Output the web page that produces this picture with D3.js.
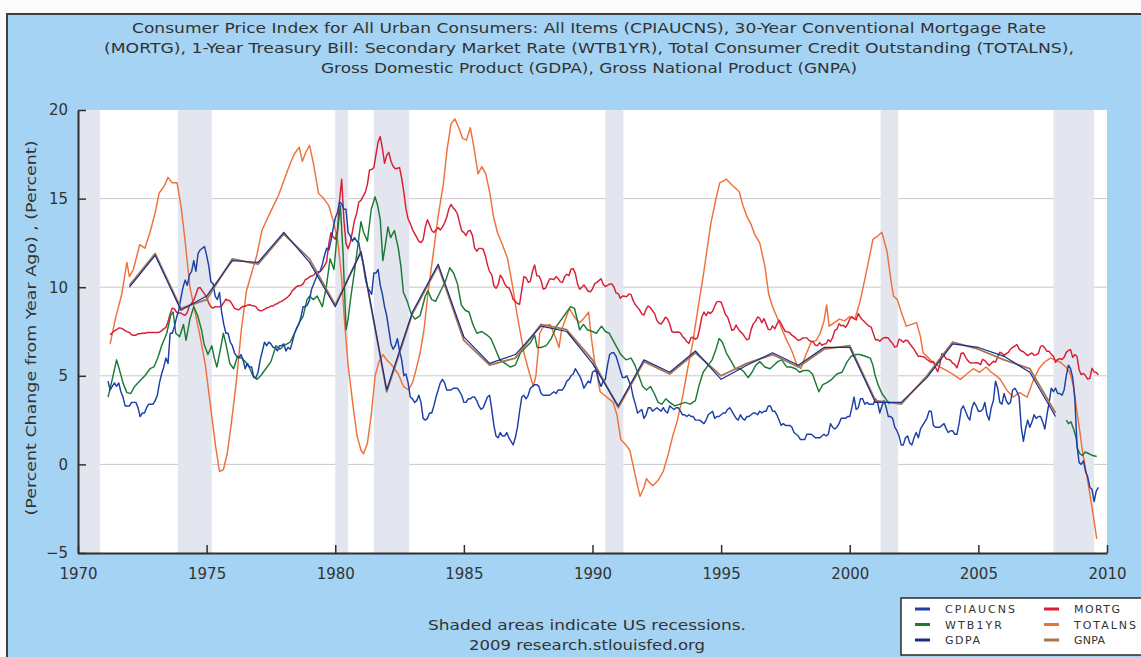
<!DOCTYPE html>
<html><head><meta charset="utf-8">
<script src="https://cdn.jsdelivr.net/npm/d3@7"></script>
<style>
html,body{margin:0;padding:0;background:#ffffff;}
svg{display:block;font-family:"DejaVu Sans",Verdana,sans-serif;}
</style>
</head><body>
<svg id="chart" width="1141" height="657"></svg>
<script>
// ---------------- DATA ----------------
const titleLines = [
  "Consumer Price Index for All Urban Consumers: All Items (CPIAUCNS), 30-Year Conventional Mortgage Rate",
  "(MORTG), 1-Year Treasury Bill: Secondary Market Rate (WTB1YR), Total Consumer Credit Outstanding (TOTALNS),",
  "Gross Domestic Product (GDPA), Gross National Product (GNPA)"
];
const yAxisLabel = "(Percent Change from Year Ago) , (Percent)";
const footerLines = ["Shaded areas indicate US recessions.", "2009 research.stlouisfed.org"];
const yTicks = [-5, 0, 5, 10, 15, 20];
const gridValues = [0, 5, 10, 15];
const xTicks = [1970, 1975, 1980, 1985, 1990, 1995, 2000, 2005, 2010];

const recessions = [[1970.0, 1970.85], [1973.88, 1975.2], [1980.0, 1980.5], [1981.5, 1982.88],
                    [1990.5, 1991.2], [2001.2, 2001.88], [2007.92, 2009.5]];

// CPIAUCNS: monthly, % change from year ago, starting March 1971
const cpiStart = 1971 + 2/12;
const cpiValues = [
  4.7,4.2,4.4,4.6,4.4,4.6,4.1,3.8,3.3,3.3,
  3.3,3.5,3.5,3.5,3.2,2.7,2.9,2.9,3.2,3.4,3.4,3.4,
  3.6,3.9,4.6,5.1,5.5,6.0,5.7,7.4,7.4,7.8,8.3,8.7,
  9.4,10.0,10.4,10.1,10.7,10.9,11.5,10.9,11.9,12.1,12.2,12.3,
  11.8,11.2,10.3,10.2,9.5,9.3,9.7,8.6,7.9,7.4,7.4,6.9,
  6.7,6.3,6.1,6.0,6.2,5.9,5.4,5.7,5.5,5.5,4.9,4.9,
  5.2,5.9,6.4,6.9,6.7,6.9,6.8,6.6,6.6,6.4,6.7,6.7,
  6.8,6.4,6.6,6.5,6.9,7.4,7.7,7.9,8.3,8.9,8.9,9.0,
  9.3,9.9,10.2,10.5,10.8,10.9,11.3,11.8,12.2,12.1,12.6,13.3,
  13.9,14.2,14.8,14.7,14.4,14.4,13.1,12.9,12.6,12.8,12.6,12.5,
  11.8,11.4,10.5,10.0,9.8,9.6,10.8,10.8,11.0,10.1,9.6,8.9,
  8.4,7.6,6.8,6.5,6.7,7.1,6.4,5.9,5.0,5.1,4.6,3.8,
  3.7,3.5,3.6,3.9,3.5,2.6,2.5,2.6,2.9,2.9,3.3,3.8,
  4.2,4.6,4.8,4.6,4.2,4.2,4.2,4.3,4.3,4.3,4.1,3.9,
  3.5,3.5,3.7,3.7,3.8,3.8,3.6,3.3,3.1,3.2,3.5,3.8,
  3.9,3.1,2.2,1.6,1.5,1.8,1.6,1.6,1.8,1.5,1.3,1.1,
  1.5,2.1,3.0,3.8,3.9,3.7,3.9,4.3,4.4,4.5,4.5,4.4,
  4.0,3.9,3.9,3.9,3.9,4.0,4.1,4.0,4.2,4.2,4.2,4.4,
  4.7,4.8,5.0,5.1,5.4,5.2,5.0,4.7,4.3,4.5,4.7,4.6,
  5.2,5.3,5.2,4.7,4.4,4.7,4.8,5.6,6.2,6.3,6.3,6.1,
  5.7,5.3,4.9,4.9,5.0,4.7,4.4,3.8,3.4,2.9,3.0,3.1,
  2.6,2.8,3.2,3.2,3.0,3.1,3.2,3.1,3.0,3.2,3.0,2.9,
  3.3,3.2,3.1,3.2,3.2,3.0,2.8,2.8,2.7,2.8,2.7,2.7,
  2.5,2.5,2.5,2.4,2.3,2.5,2.8,2.9,3.0,2.6,2.7,2.7,
  2.8,2.9,2.9,3.1,3.2,3.0,2.8,2.6,2.5,2.8,2.6,2.5,
  2.7,2.7,2.8,2.9,2.9,2.8,3.0,2.9,3.0,3.0,3.3,3.3,
  3.0,3.0,2.8,2.5,2.2,2.3,2.2,2.2,2.2,2.1,1.8,1.7,
  1.6,1.4,1.4,1.4,1.7,1.7,1.7,1.6,1.5,1.5,1.5,1.6,
  1.7,1.6,1.7,2.3,2.1,2.0,2.1,2.3,2.6,2.6,2.6,2.7,
  2.7,3.2,3.8,3.1,3.2,3.7,3.7,3.4,3.5,3.4,3.4,3.4,
  3.7,3.5,2.9,3.3,3.6,3.2,2.7,2.7,2.6,2.1,1.9,1.6,
  1.1,1.1,1.5,1.6,1.2,1.1,1.5,1.8,1.5,2.0,2.2,2.4,
  2.6,3.0,3.0,2.2,2.1,2.1,2.1,2.2,2.3,2.0,1.8,1.9,
  1.9,1.7,1.7,2.3,3.1,3.3,3.0,2.7,2.5,3.2,3.5,3.3,
  3.0,3.0,3.1,3.5,2.8,2.5,3.2,3.6,4.7,4.3,3.5,3.4,
  4.0,3.6,3.4,3.5,4.2,4.3,4.1,3.8,2.1,1.3,2.0,2.5,
  2.1,2.4,2.8,2.6,2.7,2.7,2.4,2.0,2.8,3.5,4.3,4.1,
  4.3,4.0,4.0,3.9,4.2,5.0,5.6,5.4,4.9,3.7,1.1,0.1,
  0.0,0.2,-0.4,-0.7,-1.3,-1.4,-2.1,-1.5,-1.3
];

// MORTG: monthly, percent, starting April 1971
const mortgStart = 1971 + 3/12;
const mortgValues = [
  7.31,7.43,7.53,7.60,7.70,7.69,7.63,7.55,7.48,
  7.44,7.32,7.29,7.29,7.37,7.37,7.40,7.40,7.43,7.45,7.44,7.44,
  7.44,7.44,7.46,7.54,7.65,7.73,8.05,8.50,8.82,8.77,8.58,8.54,
  8.54,8.46,8.41,8.58,8.97,9.09,9.28,9.59,9.96,9.98,9.79,9.62,
  9.43,9.10,8.89,8.82,8.91,8.89,8.89,8.94,9.13,9.32,9.26,9.22,
  9.02,8.81,8.76,8.73,8.83,8.92,8.92,8.99,9.01,8.97,8.95,8.90,
  8.72,8.67,8.69,8.75,8.83,8.86,8.94,8.94,9.04,9.07,9.16,9.20,
  9.28,9.37,9.46,9.60,9.80,9.92,10.04,10.08,10.10,10.19,10.42,10.48,
  10.59,10.63,10.68,10.83,10.87,10.89,11.03,11.21,11.46,12.46,13.08,12.85,
  12.71,13.20,14.90,16.10,13.86,12.46,12.17,12.52,13.13,13.78,14.16,14.81,
  14.90,15.12,15.35,15.80,16.62,16.64,16.75,17.50,18.20,18.50,17.84,16.99,
  17.44,17.61,17.11,16.83,16.68,16.71,16.75,16.14,15.35,14.42,13.85,13.60,
  13.25,13.04,12.81,12.59,12.52,12.69,13.39,13.80,13.52,13.20,13.09,13.23,
  13.37,13.23,13.39,13.64,13.95,14.42,14.67,14.47,14.35,14.13,13.64,13.18,
  13.08,12.92,13.17,13.20,12.91,12.22,12.03,12.19,12.19,12.14,11.78,11.26,
  10.88,10.71,10.08,9.94,10.14,10.68,10.51,10.20,10.01,9.97,9.70,9.31,
  9.20,9.08,9.04,9.83,10.60,10.54,10.28,10.33,10.89,11.26,10.65,10.64,
  10.38,9.89,9.93,10.20,10.46,10.46,10.43,10.60,10.48,10.30,10.27,10.61,
  10.73,10.65,11.03,11.05,10.77,10.20,9.88,9.99,10.13,9.95,9.77,9.74,
  9.90,10.20,10.27,10.37,10.48,10.16,10.04,10.10,10.18,10.18,10.01,9.67,
  9.64,9.37,9.50,9.49,9.47,9.62,9.58,9.24,9.01,8.86,8.71,8.50,
  8.43,8.76,8.94,8.85,8.67,8.51,8.13,7.98,7.92,8.09,8.31,8.22,
  7.92,7.50,7.46,7.46,7.47,7.42,7.21,7.11,6.92,6.83,7.16,7.17,
  7.06,7.15,7.68,8.32,8.60,8.40,8.61,8.51,8.64,8.93,9.17,9.20,
  9.15,8.83,8.46,8.32,7.96,7.57,7.61,7.86,7.64,7.48,7.38,7.20,
  7.03,7.08,7.62,7.93,8.07,8.32,8.25,8.00,8.23,7.92,7.62,7.60,
  7.82,7.65,7.90,8.14,7.94,7.69,7.50,7.48,7.43,7.29,7.21,7.10,
  6.99,7.04,7.13,7.14,7.14,7.00,6.95,6.92,6.72,6.71,6.87,6.72,
  6.79,6.81,7.04,6.92,7.15,7.55,7.63,7.94,7.82,7.85,7.74,7.91,
  8.21,8.33,8.24,8.15,8.52,8.29,8.15,8.03,7.91,7.80,7.75,7.38,
  7.03,7.05,6.95,7.08,7.15,7.16,7.13,6.95,6.82,6.62,6.66,7.07,
  7.00,6.89,7.01,6.99,6.81,6.65,6.49,6.29,6.09,6.11,6.07,6.05,
  5.92,5.84,5.75,5.81,5.48,5.23,5.63,6.26,6.15,5.95,5.93,5.88,
  5.71,5.64,5.45,5.83,6.27,6.29,6.06,5.87,5.75,5.72,5.73,5.75,
  5.71,5.63,5.93,5.86,5.72,5.58,5.70,5.82,5.77,6.07,6.33,6.27,
  6.15,6.25,6.32,6.51,6.60,6.68,6.76,6.52,6.40,6.36,6.24,6.14,
  6.22,6.29,6.16,6.18,6.26,6.66,6.70,6.57,6.38,6.38,6.21,6.10,
  5.76,5.92,5.97,5.92,6.04,6.32,6.43,6.48,6.04,6.20,6.09,5.33,
  5.06,5.13,5.00,4.81,4.86,5.42,5.22,5.19,5.06
];

// WTB1YR: [year, percent]; null marks the gap in the series (2001-2008)
const wtb1yrPoints = [
  [1971.17,3.8],[1971.3,4.6],[1971.5,5.9],[1971.6,5.4],[1971.75,4.6],[1971.9,4.05],[1972.05,4.0],[1972.2,4.4],
  [1972.4,4.7],[1972.6,5.0],[1972.8,5.4],[1972.95,5.5],[1973.1,6.0],[1973.25,6.7],[1973.45,7.4],[1973.6,8.4],
  [1973.7,8.6],[1973.8,7.4],[1973.95,7.2],[1974.1,7.9],[1974.2,7.0],[1974.35,8.2],[1974.5,8.9],[1974.65,8.4],
  [1974.8,7.6],[1974.9,6.8],[1975.05,6.2],[1975.2,6.7],[1975.3,6.0],[1975.4,5.5],[1975.55,6.6],[1975.65,7.4],
  [1975.75,6.8],[1975.9,5.7],[1976.05,5.4],[1976.2,6.1],[1976.35,6.0],[1976.5,5.8],[1976.65,5.5],[1976.8,5.0],
  [1976.95,4.8],[1977.1,5.0],[1977.3,5.4],[1977.5,5.8],[1977.7,6.7],[1977.85,6.5],[1978.0,6.7],[1978.25,6.9],
  [1978.45,7.5],[1978.6,8.0],[1978.75,8.35],[1978.9,9.3],[1979.0,9.5],[1979.15,9.3],[1979.3,9.5],[1979.5,8.9],
  [1979.65,10.0],[1979.8,11.6],[1979.95,11.0],[1980.05,12.6],[1980.2,14.6],[1980.3,12.0],[1980.42,7.6],[1980.5,8.2],
  [1980.6,9.4],[1980.75,10.9],[1980.9,12.6],[1981.0,13.7],[1981.1,13.1],[1981.25,12.6],[1981.4,14.4],[1981.55,15.1],
  [1981.65,14.6],[1981.75,13.8],[1981.85,11.5],[1981.95,12.4],[1982.05,13.4],[1982.15,12.8],[1982.3,13.2],[1982.45,12.2],
  [1982.55,11.2],[1982.65,9.7],[1982.8,9.2],[1982.95,8.5],[1983.1,8.2],[1983.3,8.4],[1983.5,9.5],[1983.6,9.8],
  [1983.75,9.3],[1983.9,9.2],[1984.1,9.8],[1984.3,10.4],[1984.45,11.1],[1984.6,10.8],[1984.75,10.2],[1984.9,9.0],
  [1985.05,8.7],[1985.2,8.6],[1985.35,7.9],[1985.5,7.4],[1985.7,7.5],[1985.9,7.3],[1986.05,7.1],[1986.2,6.6],
  [1986.4,5.9],[1986.6,5.7],[1986.8,5.5],[1987.0,5.6],[1987.2,6.3],[1987.4,6.6],[1987.6,6.9],[1987.75,7.3],
  [1987.85,6.6],[1988.0,6.6],[1988.2,6.7],[1988.4,7.1],[1988.6,7.8],[1988.8,8.2],[1989.0,8.6],[1989.15,8.9],
  [1989.3,8.8],[1989.5,7.6],[1989.65,7.9],[1989.8,7.6],[1990.0,7.5],[1990.15,7.4],[1990.35,7.8],[1990.5,7.5],
  [1990.65,7.4],[1990.8,7.0],[1990.95,6.6],[1991.1,6.2],[1991.3,5.9],[1991.5,6.0],[1991.65,5.6],[1991.8,5.0],
  [1991.95,4.4],[1992.1,4.2],[1992.25,4.4],[1992.4,4.0],[1992.55,3.5],[1992.7,3.4],[1992.85,3.7],[1993.0,3.5],
  [1993.2,3.3],[1993.4,3.4],[1993.6,3.5],[1993.8,3.4],[1994.0,3.6],[1994.15,4.5],[1994.3,5.2],[1994.5,5.6],
  [1994.65,5.9],[1994.8,6.5],[1994.92,7.1],[1995.05,6.9],[1995.2,6.3],[1995.4,5.8],[1995.55,5.4],[1995.75,5.4],
  [1995.9,5.2],[1996.05,4.9],[1996.2,5.2],[1996.35,5.6],[1996.5,5.8],[1996.7,5.5],[1996.9,5.4],[1997.05,5.6],
  [1997.2,5.8],[1997.35,5.9],[1997.55,5.5],[1997.7,5.5],[1997.9,5.4],[1998.05,5.2],[1998.2,5.3],[1998.4,5.3],
  [1998.55,5.1],[1998.7,4.5],[1998.8,4.1],[1998.95,4.5],[1999.1,4.6],[1999.3,4.8],[1999.5,5.1],[1999.7,5.2],
  [1999.9,5.8],[2000.05,6.1],[2000.25,6.2],[2000.4,6.2],[2000.6,6.1],[2000.8,6.0],[2000.9,5.6],[2000.97,5.1],
  [2001.1,4.5],[2001.25,4.0],[2001.4,3.7],[2001.55,3.4],
  null,
  [2008.42,2.5],[2008.5,2.3],[2008.6,2.4],[2008.7,2.0],[2008.8,1.5],[2008.85,0.9],[2008.95,0.6],[2009.05,0.5],
  [2009.15,0.7],[2009.3,0.6],[2009.45,0.5],[2009.6,0.45]
];

// TOTALNS: [year, % change from year ago]
const totalnsPoints = [
  [1971.25,6.8],[1971.45,8.2],[1971.7,9.6],[1971.9,11.4],[1972.0,10.6],[1972.15,11.0],[1972.4,12.4],[1972.6,12.2],
  [1972.8,13.1],[1973.0,14.2],[1973.15,15.3],[1973.35,15.7],[1973.5,16.2],[1973.65,15.9],[1973.85,15.9],[1974.0,14.6],
  [1974.15,12.8],[1974.35,10.0],[1974.55,8.6],[1974.75,7.2],[1974.95,5.6],[1975.15,3.3],[1975.35,1.0],[1975.5,-0.4],
  [1975.65,-0.3],[1975.8,0.6],[1975.95,2.2],[1976.15,4.6],[1976.35,7.6],[1976.55,9.8],[1976.75,10.8],[1976.95,11.8],
  [1977.15,13.2],[1977.4,14.0],[1977.6,14.6],[1977.8,15.2],[1978.0,16.0],[1978.2,16.8],[1978.4,17.5],[1978.6,17.9],
  [1978.72,17.1],[1978.85,17.6],[1979.0,18.0],[1979.15,17.0],[1979.35,15.3],[1979.55,15.0],[1979.75,14.6],[1979.95,13.6],
  [1980.1,12.6],[1980.25,10.5],[1980.35,8.3],[1980.5,5.6],[1980.7,3.2],[1980.85,1.6],[1981.0,0.8],[1981.1,0.6],
  [1981.25,1.2],[1981.4,2.8],[1981.55,5.0],[1981.7,5.8],[1981.85,6.2],[1982.0,5.9],[1982.2,5.6],[1982.45,5.1],
  [1982.65,4.4],[1982.85,4.2],[1983.0,4.6],[1983.15,5.4],[1983.3,6.3],[1983.45,7.6],[1983.6,9.6],[1983.8,11.8],
  [1984.0,14.0],[1984.2,15.8],[1984.35,17.8],[1984.5,19.2],[1984.65,19.5],[1984.8,19.0],[1984.95,18.4],[1985.1,18.3],
  [1985.25,19.0],[1985.4,17.8],[1985.55,16.4],[1985.7,16.8],[1985.85,16.4],[1986.0,15.4],[1986.15,14.0],[1986.3,13.1],
  [1986.5,12.4],[1986.7,11.6],[1986.9,10.0],[1987.05,8.6],[1987.2,7.4],[1987.35,6.2],[1987.5,5.4],[1987.7,4.4],
  [1987.8,5.0],[1987.95,7.4],[1988.1,7.8],[1988.35,7.9],[1988.55,7.2],[1988.7,6.6],[1988.8,7.6],[1988.95,8.2],
  [1989.1,8.8],[1989.3,8.3],[1989.5,8.0],[1989.7,8.3],[1989.85,8.6],[1989.95,7.2],[1990.1,5.6],[1990.3,4.1],
  [1990.55,3.8],[1990.8,3.5],[1990.95,2.8],[1991.1,1.4],[1991.3,1.1],[1991.45,0.8],[1991.6,-0.2],[1991.75,-1.2],
  [1991.85,-1.8],[1992.0,-1.3],[1992.1,-0.8],[1992.2,-1.0],[1992.35,-1.2],[1992.55,-0.9],[1992.75,-0.4],[1992.95,0.6],
  [1993.1,1.5],[1993.3,2.5],[1993.5,3.8],[1993.7,5.4],[1993.9,6.9],[1994.1,8.8],[1994.3,10.6],[1994.45,12.1],
  [1994.6,13.6],[1994.8,15.0],[1994.95,15.9],[1995.1,16.0],[1995.2,16.1],[1995.4,15.8],[1995.55,15.6],[1995.7,15.4],
  [1995.85,14.6],[1996.0,14.0],[1996.15,13.6],[1996.3,13.0],[1996.5,12.5],[1996.7,11.2],[1996.85,9.6],[1997.0,8.9],
  [1997.2,8.2],[1997.4,7.5],[1997.55,7.0],[1997.75,6.4],[1997.95,5.6],[1998.1,5.4],[1998.3,6.2],[1998.5,6.9],
  [1998.7,7.0],[1998.85,7.4],[1999.0,8.1],[1999.1,9.0],[1999.2,7.8],[1999.4,8.0],[1999.6,8.2],[1999.8,8.1],
  [2000.0,8.35],[2000.2,8.2],[2000.4,9.2],[2000.55,10.2],[2000.75,11.6],[2000.9,12.7],[2001.1,12.9],[2001.25,13.1],
  [2001.45,12.0],[2001.6,10.4],[2001.7,9.5],[2001.85,9.3],[2002.0,8.6],[2002.2,7.8],[2002.4,7.9],[2002.6,8.0],
  [2002.75,7.2],[2002.85,6.3],[2003.0,6.1],[2003.2,5.8],[2003.5,5.5],[2003.75,5.3],[2004.0,5.1],[2004.3,4.8],
  [2004.55,5.1],[2004.8,5.4],[2005.05,5.2],[2005.3,5.5],[2005.5,5.2],[2005.7,5.0],[2005.85,4.8],[2006.1,4.2],
  [2006.35,3.8],[2006.6,4.05],[2006.9,3.8],[2007.15,4.8],[2007.35,5.4],[2007.55,5.75],[2007.8,6.0],[2008.0,5.9],
  [2008.2,5.75],[2008.4,5.5],[2008.55,5.2],[2008.7,4.4],[2008.8,3.3],[2008.95,1.8],[2009.05,0.7],[2009.2,-0.5],
  [2009.35,-1.8],[2009.5,-3.2],[2009.6,-4.2]
];

// GDPA / GNPA: annual, % change from year ago
const annualYears = [1972,1973,1974,1975,1976,1977,1978,1979,1980,1981,1982,1983,1984,1985,1986,1987,1988,1989,1990,
  1991,1992,1993,1994,1995,1996,1997,1998,1999,2000,2001,2002,2003,2004,2005,2006,2007,2008];
const gdpaValues = [10.0,11.8,8.7,9.5,11.5,11.4,13.1,11.4,8.9,12.0,4.2,8.6,11.3,7.2,5.7,6.2,7.8,7.5,5.7,
  3.3,5.9,5.2,6.4,4.8,5.6,6.3,5.6,6.6,6.6,3.5,3.5,4.9,6.8,6.6,6.1,5.2,2.7];
const gnpaValues = [10.1,11.9,8.8,9.3,11.6,11.3,13.0,11.6,9.0,12.0,4.1,8.5,11.2,7.0,5.6,6.0,7.9,7.6,5.9,
  3.2,5.8,5.1,6.3,5.0,5.7,6.2,5.5,6.5,6.7,3.6,3.4,5.0,6.9,6.5,5.9,5.4,2.9];

const seriesNames = ["CPIAUCNS", "MORTG", "WTB1YR", "TOTALNS", "GDPA", "GNPA"];
const seriesColors = ["#1c3fa8", "#d81e34", "#1d7a36", "#f0703a", "#1a2d8c", "#a57650"];

// ---------------- CHART ----------------
const W = 1141, H = 657;
const plot = {left: 78, right: 1107, top: 110, bottom: 553};
const svg = d3.select("#chart");

const x = d3.scaleLinear().domain([1970, 2010]).range([plot.left, plot.right]);
const y = d3.scaleLinear().domain([-5, 20]).range([plot.bottom, plot.top]);

// page & panel
svg.append("rect").attr("x", 0).attr("y", 0).attr("width", W).attr("height", H).attr("fill", "#fbfbfb");
svg.append("rect").attr("x", 7).attr("y", 14).attr("width", W + 20).attr("height", H + 20)
  .attr("fill", "#a5d3f3").attr("stroke", "#3b3f44").attr("stroke-width", 2);

// title
svg.append("g").selectAll("text").data(titleLines).join("text")
  .attr("x", 589).attr("y", (d, i) => 33 + i * 20)
  .attr("text-anchor", "middle").attr("font-size", 14).attr("fill", "#333")
  .attr("textLength", (d, i) => [914, 970, 536][i]).attr("lengthAdjust", "spacingAndGlyphs")
  .text(d => d);

// plot background
svg.append("rect").attr("x", plot.left).attr("y", plot.top)
  .attr("width", plot.right - plot.left).attr("height", plot.bottom - plot.top).attr("fill", "#ffffff");

// grid
svg.append("g").selectAll("line").data(gridValues).join("line")
  .attr("x1", plot.left).attr("x2", plot.right).attr("y1", d => y(d)).attr("y2", d => y(d))
  .attr("stroke", "#c9c9c9").attr("stroke-width", 1);

// recessions
svg.append("g").selectAll("rect").data(recessions).join("rect")
  .attr("x", d => x(d[0])).attr("width", d => x(d[1]) - x(d[0]))
  .attr("y", plot.top).attr("height", plot.bottom - plot.top)
  .attr("fill", "#e3e6ee");

// series data
const monthly = (start, vals) => vals.map((v, i) => [start + i / 12, v]);
const seriesData = [
  monthly(cpiStart, cpiValues),
  monthly(mortgStart, mortgValues),
  wtb1yrPoints,
  totalnsPoints,
  annualYears.map((yr, i) => [yr, gdpaValues[i]]),
  annualYears.map((yr, i) => [yr, gnpaValues[i]])
];

const line = d3.line().defined(d => d !== null).x(d => x(d[0])).y(d => y(d[1]));
const drawOrder = [3, 1, 2, 0, 5, 4];
svg.append("g").selectAll("path").data(drawOrder).join("path")
  .attr("d", i => line(seriesData[i]))
  .attr("fill", "none").attr("stroke", i => seriesColors[i])
  .attr("stroke-width", i => i === 5 ? 1.8 : (i === 4 ? 1.2 : 1.45))
  .attr("stroke-linejoin", "round");

// axes
const yAxis = svg.append("g").attr("transform", `translate(${plot.left},0)`)
  .call(d3.axisLeft(y).tickValues(yTicks).tickSizeInner(-8).tickSizeOuter(0).tickPadding(10));
const xAxis = svg.append("g").attr("transform", `translate(0,${plot.bottom})`)
  .call(d3.axisBottom(x).tickValues(xTicks).tickFormat(d3.format("d")).tickSizeInner(-8).tickSizeOuter(0).tickPadding(15));
[yAxis, xAxis].forEach(g => {
  g.select(".domain").attr("stroke", "#2f2f2f").attr("stroke-width", 2);
  g.selectAll(".tick line").attr("stroke", "#2f2f2f").attr("stroke-width", 1.5);
  g.selectAll(".tick text").attr("font-size", 15).attr("fill", "#333")
    .attr("font-family", "\"DejaVu Sans\",Verdana,sans-serif");
});

// y axis label
svg.append("text").attr("transform", "translate(36,328) rotate(-90)")
  .attr("text-anchor", "middle").attr("font-size", 14).attr("fill", "#333")
  .attr("textLength", 375).attr("lengthAdjust", "spacingAndGlyphs")
  .text(yAxisLabel);

// footer
svg.append("g").selectAll("text").data(footerLines).join("text")
  .attr("x", 587).attr("y", (d, i) => 630 + i * 20)
  .attr("text-anchor", "middle").attr("font-size", 14).attr("fill", "#333")
  .attr("textLength", (d, i) => [318, 236][i]).attr("lengthAdjust", "spacingAndGlyphs")
  .text(d => d);

// legend
const lg = svg.append("g");
lg.append("rect").attr("x", 901).attr("y", 598).attr("width", 260).attr("height", 57)
  .attr("fill", "#ffffff").attr("stroke", "#2a2a2a").attr("stroke-width", 1.5);
const legendOrder = [0, 1, 2, 3, 4, 5];
const legendWidths = [70, 46, 57, 62, 35, 31];
const items = lg.selectAll("g.item").data(legendOrder).join("g").attr("class", "item")
  .attr("transform", i => `translate(${i % 2 === 0 ? 915 : 1044},${609 + Math.floor(i / 2) * 15.5})`);
items.append("line").attr("x1", 0).attr("x2", 15).attr("y1", 0).attr("y2", 0)
  .attr("stroke", i => seriesColors[i]).attr("stroke-width", 3);
items.append("text").attr("x", 30).attr("y", 4).attr("font-size", 11).attr("fill", "#333")
  .attr("textLength", i => legendWidths[i]).attr("lengthAdjust", "spacing")
  .text(i => seriesNames[i]);
</script>
</body></html>
